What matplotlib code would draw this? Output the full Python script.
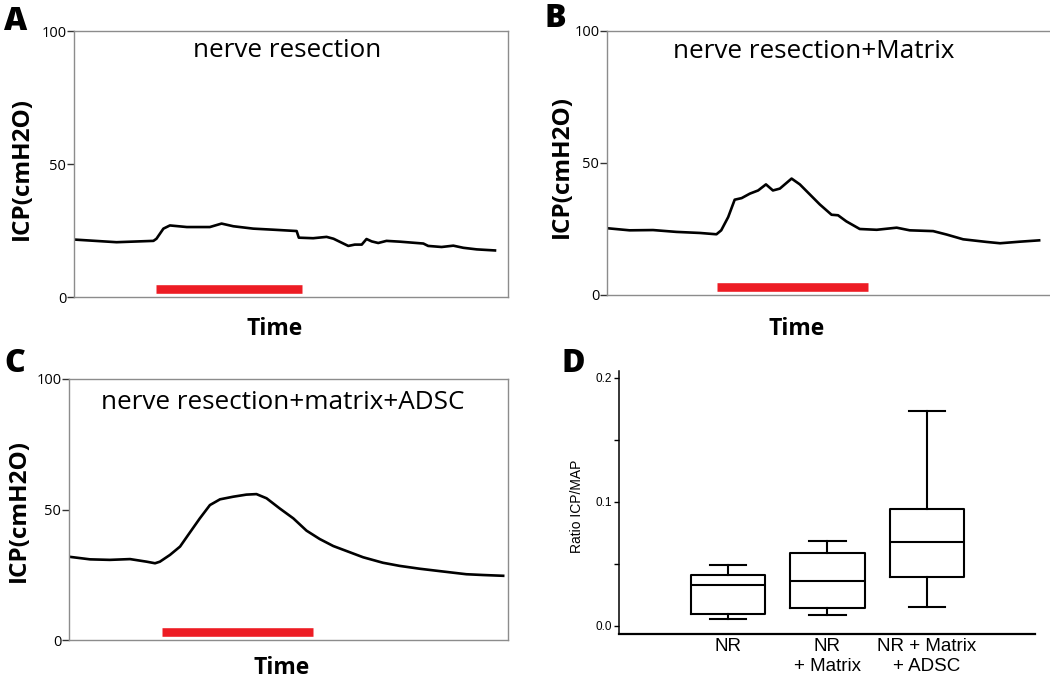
import matplotlib
matplotlib.use("Agg")
import matplotlib.pyplot as plt

W, H = 1050, 681
DPI = 100

# ---------------- data ----------------
# Panel A: nerve resection (time in arbitrary units, ICP in cmH2O)
time_a = [0, 9.8, 18.3, 19.0, 20.6, 22.1, 26.0, 31.3, 34.0, 36.7, 41.3, 45.9, 51.3, 51.8,
          55.1, 58.2, 59.8, 63.2, 64.7, 66.3, 67.4, 68.6, 70.1, 72.0, 75.1, 80.5, 81.6,
          84.7, 87.4, 89.7, 92.8, 97.0]
icp_a = [21.6, 20.6, 21.1, 21.9, 25.7, 26.9, 26.3, 26.3, 27.6, 26.6, 25.7, 25.3, 24.8, 22.3,
         22.1, 22.6, 21.9, 19.2, 19.7, 19.7, 21.8, 20.9, 20.3, 21.1, 20.8, 20.1, 19.2,
         18.8, 19.3, 18.5, 17.9, 17.5]

# Panel B: nerve resection + Matrix
time_b = [0, 5.2, 10.6, 16.0, 21.4, 25.2, 26.3, 27.9, 29.4, 31.0, 32.9, 34.8, 36.6, 38.2,
          39.8, 42.5, 44.4, 46.7, 49.0, 51.7, 53.2, 55.1, 58.2, 62.1, 66.7, 69.7, 75.1,
          78.2, 82.0, 87.4, 90.5, 95.1, 99.5]
icp_b = [25.3, 24.5, 24.6, 23.9, 23.5, 23.0, 24.5, 29.5, 36.1, 36.7, 38.4, 39.6, 41.9, 39.6,
         40.3, 44.1, 41.9, 38.1, 34.3, 30.4, 30.2, 27.9, 25.0, 24.7, 25.5, 24.5, 24.2,
         22.9, 21.1, 20.1, 19.6, 20.2, 20.7]

# Panel C: nerve resection + matrix + ADSC
time_c = [0, 4.8, 9.3, 13.9, 17.7, 19.6, 20.7, 23.0, 25.3, 27.5, 29.8, 32.1, 34.4, 37.4,
          40.4, 42.7, 45.0, 48.0, 51.1, 54.1, 57.1, 60.2, 64.0, 67.0, 71.5, 75.3, 79.9,
          84.4, 90.5, 94.3, 98.9]
icp_c = [31.9, 30.9, 30.7, 31.0, 30.0, 29.4, 30.0, 32.6, 35.8, 41.1, 46.6, 51.7, 53.9, 54.9,
         55.7, 55.9, 54.3, 50.4, 46.6, 41.9, 38.7, 36.0, 33.6, 31.7, 29.6, 28.4, 27.3,
         26.4, 25.2, 24.9, 24.6]

# stimulation bars (start, end, level)
stim_a = [18.9, 52.5]
stim_b = [25.4, 60.0]
stim_c = [21.1, 55.5]
stim_level = 3.0

trace_titles = ["nerve resection", "nerve resection+Matrix", "nerve resection+matrix+ADSC"]
trace_yticks = [0, 50, 100]

# Panel D: box plot of ICP/MAP ratio
groups = ["NR", "NR\n+ Matrix", "NR + Matrix\n+ ADSC"]
whisker_low = [0.0056, 0.009, 0.0153]
q1 = [0.0097, 0.0145, 0.0395]
median = [0.033, 0.036, 0.068]
q3 = [0.041, 0.059, 0.094]
whisker_high = [0.049, 0.0685, 0.173]
d_yticks = [0.0, 0.1, 0.2]
d_yticks_minor = [0.05, 0.15]

# ---------------- figure ----------------
fig = plt.figure(figsize=(W / DPI, H / DPI), dpi=DPI)


def rect(l, t, r, b):
    return [l / W, 1 - b / H, (r - l) / W, (b - t) / H]


def ftext(x, y, s, **kw):
    fig.text(x / W, 1 - y / H, s, **kw)


TF = "Open Sans"
frame_col = "#8c8c8c"

trace_specs = [
    (rect(74, 31, 508, 297), time_a, icp_a, stim_a, 100, trace_titles[0], (287, 57), True),
    (rect(607, 31, 1050, 295), time_b, icp_b, stim_b, 102, trace_titles[1], (814, 58), False),
    (rect(69, 379, 508, 640), time_c, icp_c, stim_c, 100, trace_titles[2], (283, 409), True),
]

for r, t, v, stim, xmax, title, tpos, right in trace_specs:
    ax = fig.add_axes(r)
    ax.plot(t, v, color="black", lw=1.9, solid_joinstyle="round")
    ax.plot(stim, [stim_level, stim_level], color="#ed1c24", lw=6.2, solid_capstyle="butt")
    ax.set_xlim(0, xmax)
    ax.set_ylim(0, 100)
    ax.set_xticks([])
    ax.set_yticks(trace_yticks)
    ax.tick_params(axis="y", length=5, width=1.0, pad=0.5, labelsize=10.5, color="#333333")
    for lab in ax.get_yticklabels():
        lab.set_fontfamily(TF)
    for name, sp in ax.spines.items():
        sp.set_color(frame_col)
        sp.set_linewidth(1.0)
    if not right:
        ax.spines["right"].set_visible(False)
    ftext(tpos[0], tpos[1], title, ha="center", va="baseline", fontsize=18.8, fontfamily=TF)

# y labels and Time labels for traces
for x, y in [(22, 169), (562, 166), (19, 510)]:
    ftext(x, y, "ICP(cmH2O)", rotation=90, ha="center", va="center", fontsize=17.5,
          fontweight="bold", fontfamily=TF)
for x, y in [(275, 335), (797, 335), (282, 674)]:
    ftext(x, y, "Time", ha="center", va="baseline", fontsize=16.5, fontweight="bold", fontfamily=TF)

# panel letters
for x, y, s in [(16, 30, "A"), (555, 27, "B"), (15, 372, "C"), (573, 372, "D")]:
    ftext(x, y, s, ha="center", va="baseline", fontsize=23, fontweight="heavy", fontfamily=TF)

# ---------------- panel D ----------------
axd = fig.add_axes(rect(619, 371, 1035, 634))
stats = []
for i in range(len(groups)):
    stats.append(dict(med=median[i], q1=q1[i], q3=q3[i], whislo=whisker_low[i],
                      whishi=whisker_high[i], fliers=[], label=groups[i]))
lw = 1.5
axd.bxp(stats, positions=[1, 2, 3], widths=0.75, showfliers=False,
        boxprops=dict(color="black", lw=lw), medianprops=dict(color="black", lw=lw),
        whiskerprops=dict(color="black", lw=lw), capprops=dict(color="black", lw=lw),
        capwidths=0.37)
axd.set_xlim(-0.095, 4.086)
axd.set_ylim(-0.0065, 0.2056)
axd.set_yticks(d_yticks)
axd.set_yticklabels(["0.0", "0.1", "0.2"])
axd.set_yticks(d_yticks_minor, minor=True)
axd.tick_params(axis="y", which="both", length=3.5, width=1.0, pad=1.5, labelsize=8.5)
axd.tick_params(axis="x", length=0, pad=3, labelsize=13.5)
for lab in axd.get_yticklabels() + axd.get_xticklabels():
    lab.set_fontfamily("Liberation Sans")
axd.spines["top"].set_visible(False)
axd.spines["right"].set_visible(False)
axd.spines["left"].set_linewidth(1.1)
axd.spines["bottom"].set_linewidth(1.6)
ftext(577, 506, "Ratio ICP/MAP", rotation=90, ha="center", va="center", fontsize=10,
      fontfamily=["Liberation Sans Narrow", "Liberation Sans"])

fig.savefig("out.png", dpi=DPI)
